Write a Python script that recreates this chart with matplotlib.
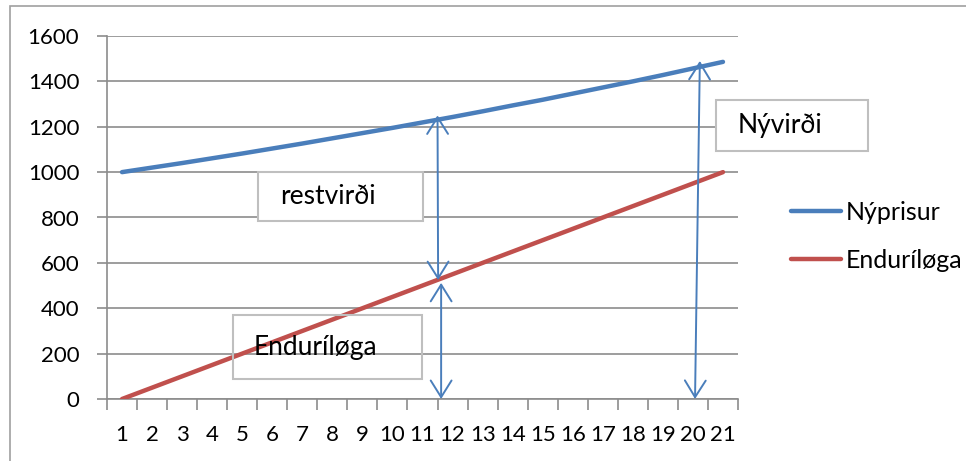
import matplotlib.pyplot as plt
from matplotlib.patches import Rectangle

plt.rcParams['font.family'] = ['Lato', 'DejaVu Sans']

# --- data ---
years = list(range(1, 22))
nyprisur = [1000, 1020, 1040, 1061, 1082, 1104, 1126, 1149, 1172, 1195, 1219,
             1243, 1268, 1294, 1319, 1346, 1373, 1400, 1428, 1457, 1486]
endurilog = [0, 50, 100, 150, 200, 250, 300, 350, 400, 450, 500,
             550, 600, 650, 700, 750, 800, 850, 900, 950, 1000]
y_ticks = [0, 200, 400, 600, 800, 1000, 1200, 1400, 1600]

BLUE = '#4A7EBB'
RED = '#C0504D'
GRID = '#8C8C8C'

W, H = 966, 461
fig = plt.figure(figsize=(W / 100, H / 100), dpi=100)

# outer chart frame (runs off the right and bottom edge)
fig.patches.append(Rectangle((10 / W, -0.1), 1.2, 1 - 6 / H + 0.1,
                             transform=fig.transFigure, fill=False,
                             edgecolor='#A0A0A0', linewidth=1.2))

# plot area in pixels: x 107..738, y 36..399
ax = fig.add_axes([107 / W, 1 - 399 / H, (738 - 107) / W, (399 - 36) / H])

ax.plot(years, nyprisur, color=BLUE, linewidth=3.2, solid_capstyle='round',
        label='Nýprisur', zorder=3)
ax.plot(years, endurilog, color=RED, linewidth=3.2, solid_capstyle='round',
        label='Enduríløga', zorder=3)

ax.set_xlim(0.5, 21.5)
ax.set_ylim(0, 1600)
ax.set_yticks(y_ticks)
ax.set_xticks(years)
ax.set_xticks([v + 0.5 for v in range(0, 22)], minor=True)
ax.grid(axis='y', color=GRID, linewidth=1.2, zorder=0)
for s in ['top', 'right']:
    ax.spines[s].set_visible(False)
for s in ['left', 'bottom']:
    ax.spines[s].set_color(GRID)
    ax.spines[s].set_linewidth(1.2)
ax.tick_params(axis='y', length=7, width=1.2, color=GRID, pad=13, labelsize=16)
ax.tick_params(axis='x', which='major', length=0, pad=19, labelsize=16)
ax.tick_params(axis='x', which='minor', length=8, width=1.2, color=GRID)

# arrows
arrow_kw = dict(arrowstyle='<->,head_length=0.4,head_width=0.25', color=BLUE,
                lw=1.4, mutation_scale=30, shrinkA=0, shrinkB=0)
ax.annotate('', xy=(11.5, 1250), xytext=(11.52, 524), arrowprops=arrow_kw, zorder=4)
ax.annotate('', xy=(11.62, 512), xytext=(11.62, 0), arrowprops=arrow_kw, zorder=4)
ax.annotate('', xy=(20.23, 1490), xytext=(20.07, 0), arrowprops=arrow_kw,
            zorder=4, annotation_clip=False)

# text boxes (figure pixel positions)
def box(x0, y0, x1, y1, text, tx, filled=True):
    fig.patches.append(Rectangle((x0 / W, 1 - y1 / H), (x1 - x0) / W, (y1 - y0) / H,
                                 transform=fig.transFigure, facecolor='white',
                                 fill=filled, edgecolor='#BFBFBF', linewidth=1.5,
                                 zorder=5))
    fig.text(tx / W, 1 - ((y0 + y1) / 2) / H, text, fontsize=19,
             ha='left', va='center', zorder=6)

box(258, 172, 423, 221, 'restvirði', 280)
box(233, 315, 422, 379, 'Enduríløga', 254, filled=False)
box(716, 100, 868, 151, 'Nývirði', 738)

leg = ax.legend(loc='center left', bbox_to_anchor=(768 / W, 1 - 236 / H),
                bbox_transform=fig.transFigure, frameon=False, fontsize=18,
                handlelength=2.0, handletextpad=0.2, labelspacing=1.0)

fig.savefig('out.png', dpi=100)
